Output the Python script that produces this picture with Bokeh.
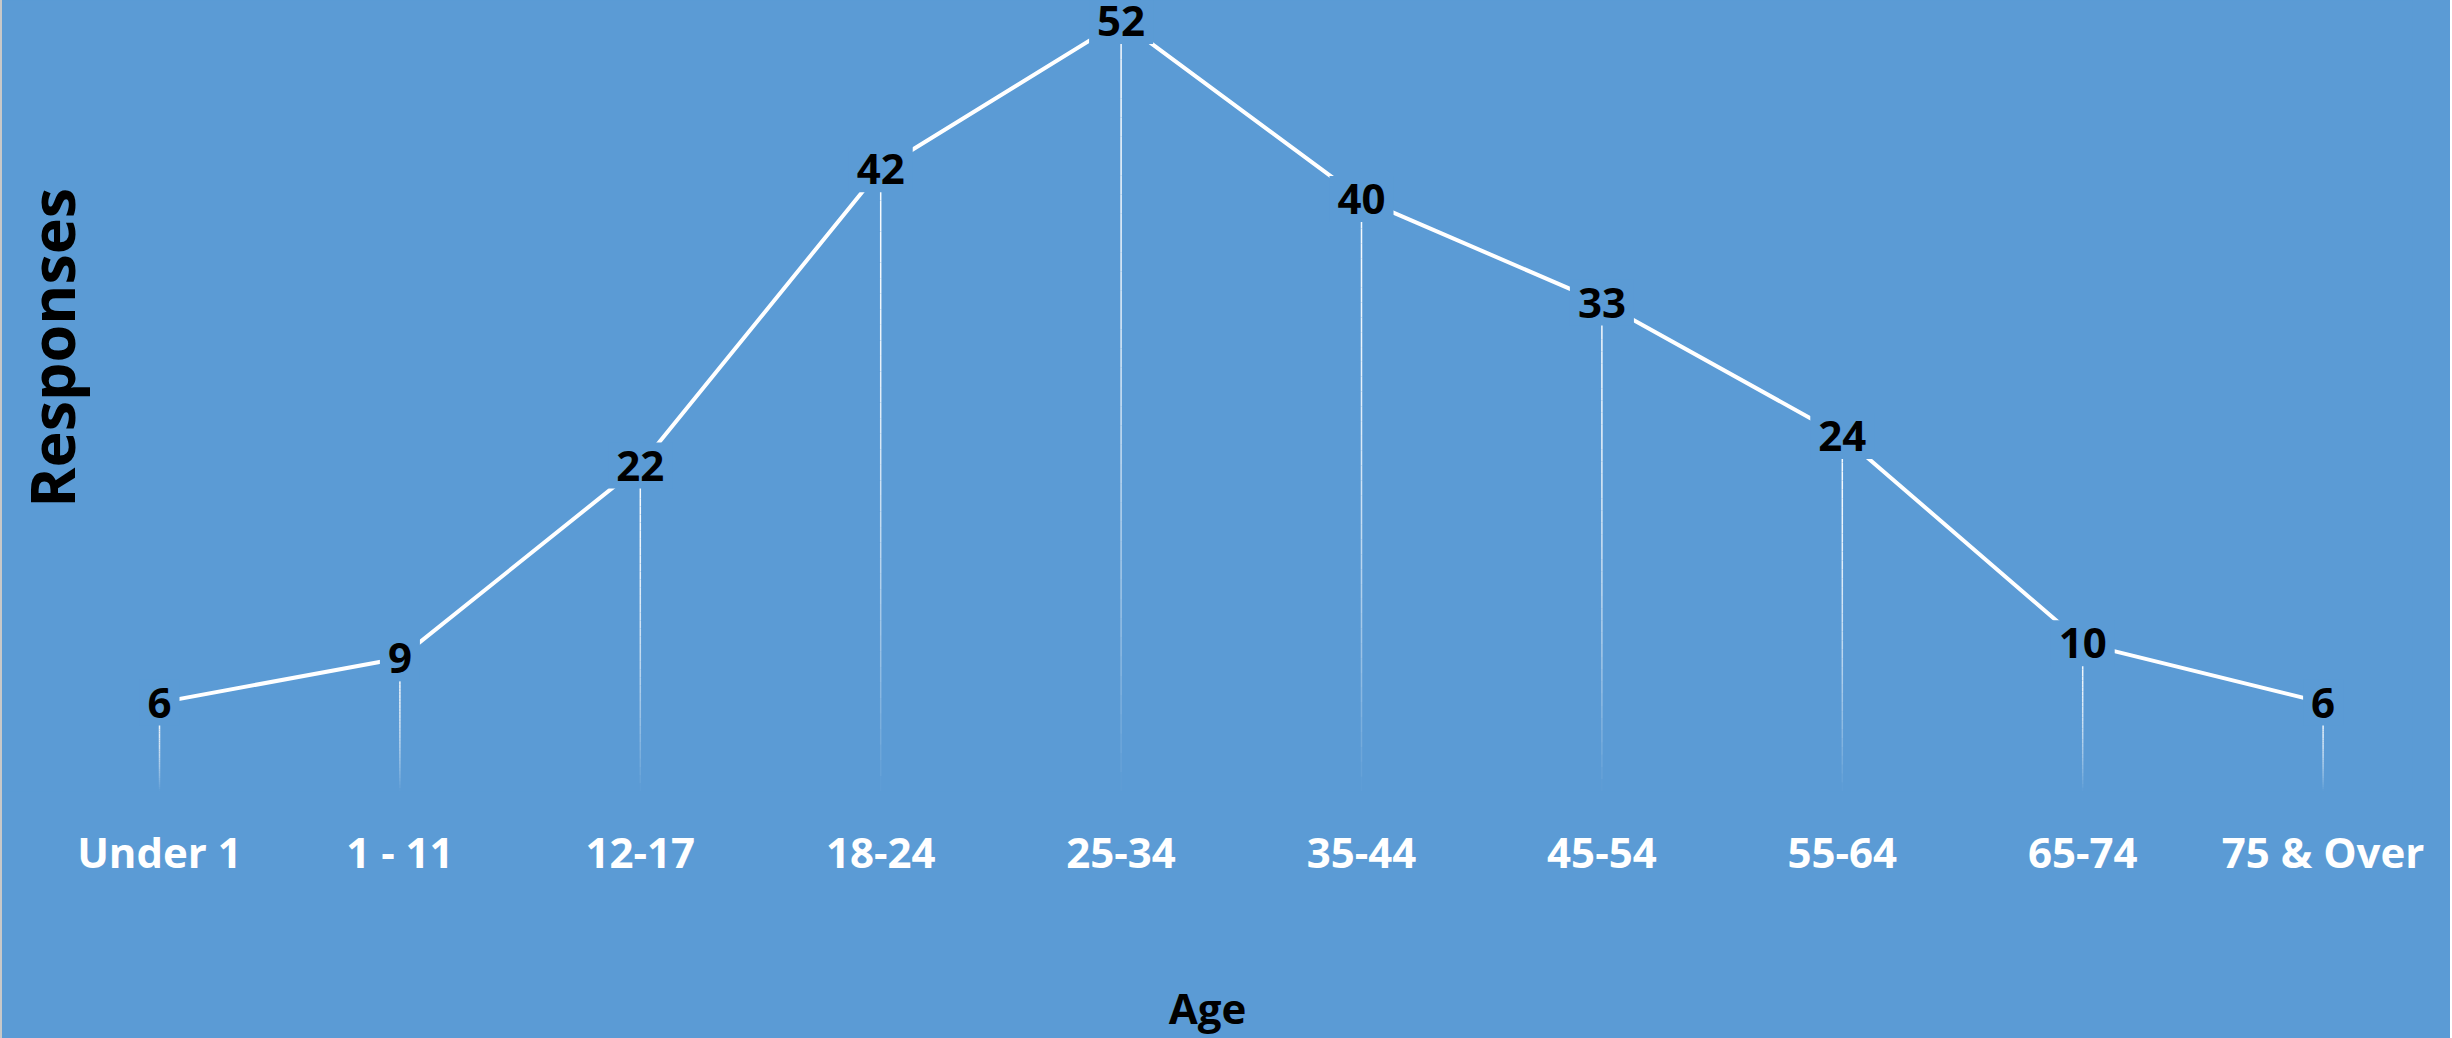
import math
from bokeh.plotting import figure
from bokeh.models import Range1d, FixedTicker, Label, ColumnDataSource
from bokeh.core.properties import value
from bokeh.embed import file_html
from bokeh.resources import INLINE

# ---- data ----
categories = ["Under 1", "1 - 11", "12-17", "18-24", "25-34",
              "35-44", "45-54", "55-64", "65-74", "75 & Over"]
responses = [6, 9, 22, 42, 52, 40, 33, 24, 10, 6]
x_title = "Age"
y_title = "Responses"

# ---- layout constants ----
BG = "#5B9BD5"
FONT = "Open Sans"
W, H = 2450, 1038
B = 243           # bottom border (tick labels + axis title)
R = 40            # right border, centres the axis title like the reference
step = 240.4      # px per category
x0 = 157          # px of first category (figure coords)
ppu = 14.89       # px per response unit

xs = list(range(len(categories)))

p = figure(width=W, height=H, output_backend="svg", toolbar_location=None,
           x_range=Range1d(-x0 / step, (W - R - x0) / step),
           y_range=Range1d(0, (H - B) / ppu),
           y_axis_location=None,
           min_border_left=0, min_border_right=R, min_border_top=0,
           min_border_bottom=B)
p.styles = {"border-left": "2px solid #C8C8C8", "background-color": BG}
p.background_fill_color = BG
p.border_fill_color = BG
p.outline_line_color = None
p.grid.visible = False

# x axis with category tick labels and axis title
ax = p.xaxis[0]
ax.ticker = FixedTicker(ticks=xs)
ax.major_label_overrides = {i: c for i, c in enumerate(categories)}
ax.axis_line_color = None
ax.major_tick_line_color = None
ax.minor_tick_line_color = None
ax.major_label_standoff = 25
ax.major_label_text_font = FONT
ax.major_label_text_font_style = "bold"
ax.major_label_text_font_size = "42px"
ax.major_label_text_color = "white"
ax.axis_label = x_title
ax.axis_label_standoff = 96
ax.axis_label_text_font = FONT
ax.axis_label_text_font_style = "bold"
ax.axis_label_text_font_size = "42px"
ax.axis_label_text_color = "black"

# main line
src = ColumnDataSource(dict(x=xs, y=responses, label=[str(v) for v in responses]))
p.line("x", "y", source=src, line_color="white", line_width=4)

# drop lines with fading gradient
N = 40
sx, sy0, sy1, sa = [], [], [], []
for i, v in enumerate(responses):
    for k in range(N):
        t0, t1 = k / N, (k + 1) / N
        tm = (t0 + t1) / 2
        sx.append(i)
        sy0.append(v * (1 - t0))
        sy1.append(v * (1 - t1))
        sa.append(max(0.0, 0.95 * (1 - tm ** 2)))
p.segment(x0=sx, y0=sy0, x1=sx, y1=sy1, line_color="white",
          line_alpha=sa, line_width=1.5)

# data labels
p.text("x", "y", text="label", source=src, text_align="center",
       text_baseline="middle", text_font=value(FONT), text_font_style="bold",
       text_font_size="42px", text_color="black",
       background_fill_color=BG, padding=8)

# vertical axis title
p.add_layout(Label(x=-0.449, y=29.95, text=y_title, angle=math.pi / 2,
                   text_align="center", text_baseline="middle",
                   text_font=FONT, text_font_style="bold",
                   text_font_size="61px", text_color="black"))

open("out.html", "w").write(file_html(p, INLINE))
